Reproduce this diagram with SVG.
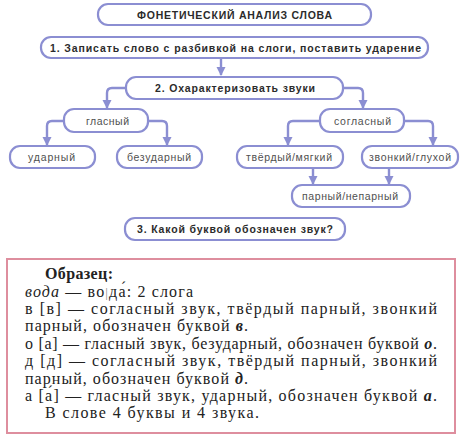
<svg xmlns="http://www.w3.org/2000/svg" width="463" height="439" viewBox="0 0 463 439">
<defs>
<marker id="ah" markerUnits="userSpaceOnUse" markerWidth="10" markerHeight="10" refX="8" refY="4.5" orient="auto" viewBox="0 0 10 9">
<path d="M0,0 L9,4.5 L0,9 z" fill="#8b8ed2"/>
</marker>
<style>
.box{fill:#fff;stroke:#8b8ed2;stroke-width:2.2}
.hd{font-family:"Liberation Sans",Arial,sans-serif;font-weight:bold;fill:#2b2b2b;text-anchor:middle}
.lb{font-family:"Liberation Sans",Arial,sans-serif;font-size:10.5px;fill:#505050;text-anchor:middle}
.cn{fill:none;stroke:#8b8ed2;stroke-width:2.4;stroke-linejoin:round}
.tx{font-family:"Liberation Serif","Times New Roman",serif;font-size:16px;fill:#222}
.bi{font-weight:bold;font-style:italic}
</style>
</defs>
<rect width="463" height="439" fill="#fff"/>
<g id="connectors">
<path class="cn" d="M221,58 V75" marker-end="url(#ah)"/>
<path class="cn" d="M126,88 H112 Q107,88 107,93 V108" marker-end="url(#ah)"/>
<path class="cn" d="M343,88 H358 Q363,88 363,93 V108" marker-end="url(#ah)"/>
<path class="cn" d="M64,121 H52 Q47,121 47,126 V145" marker-end="url(#ah)"/>
<path class="cn" d="M148,121 H162 Q167,121 167,126 V145" marker-end="url(#ah)"/>
<path class="cn" d="M320,121 H293 Q288,121 288,126 V145" marker-end="url(#ah)"/>
<path class="cn" d="M404,121 H428 Q433,121 433,126 V145" marker-end="url(#ah)"/>
<path class="cn" d="M313,168 V184" marker-end="url(#ah)"/>
<path class="cn" d="M389,168 V184" marker-end="url(#ah)"/>
</g>
<g id="title"><rect class="box" x="98" y="4" width="273" height="21" rx="10"/><text class="hd" x="234.5" y="19" font-size="10.5" textLength="195" lengthAdjust="spacing">ФОНЕТИЧЕСКИЙ АНАЛИЗ СЛОВА</text></g>
<g id="step1"><rect class="box" x="41" y="37" width="387" height="21" rx="10"/><text class="hd" x="235.5" y="51.5" font-size="10.5" textLength="371" lengthAdjust="spacing">1. Записать слово с разбивкой на слоги, поставить ударение</text></g>
<g id="step2"><rect class="box" x="126" y="77" width="217" height="22" rx="10"/><text class="hd" x="235" y="92" font-size="10.5" textLength="160" lengthAdjust="spacing">2. Охарактеризовать звуки</text></g>
<g id="vowel"><rect class="box" x="64" y="109" width="84" height="23" rx="10"/><text class="lb" x="107.5" y="124.5" textLength="43" lengthAdjust="spacing">гласный</text></g>
<g id="consonant"><rect class="box" x="320" y="109" width="84" height="23" rx="10"/><text class="lb" x="362.5" y="124.5" textLength="57" lengthAdjust="spacing">согласный</text></g>
<g id="stressed"><rect class="box" x="10" y="146" width="85" height="22" rx="10"/><text class="lb" x="51.5" y="161" textLength="47" lengthAdjust="spacing">ударный</text></g>
<g id="unstressed"><rect class="box" x="117" y="146" width="85" height="22" rx="10"/><text class="lb" x="159" y="161" textLength="64" lengthAdjust="spacing">безударный</text></g>
<g id="hardsoft"><rect class="box" x="237" y="146" width="106" height="22" rx="10"/><text class="lb" x="289" y="161" textLength="86" lengthAdjust="spacing">твёрдый/мягкий</text></g>
<g id="voiced"><rect class="box" x="362" y="146" width="96" height="22" rx="10"/><text class="lb" x="410" y="161" textLength="82" lengthAdjust="spacing">звонкий/глухой</text></g>
<g id="paired"><rect class="box" x="292" y="185" width="118" height="22" rx="10"/><text class="lb" x="350" y="200" textLength="96" lengthAdjust="spacing">парный/непарный</text></g>
<g id="step3"><rect class="box" x="125" y="218" width="220" height="22" rx="10"/><text class="hd" x="235" y="233" font-size="10.5" textLength="196" lengthAdjust="spacing">3. Какой буквой обозначен звук?</text></g>
<g id="sample">
<rect x="7" y="259" width="448" height="174" fill="#fff" stroke="#de8e9e" stroke-width="2"/>
<text class="tx" x="45" y="279" font-weight="bold" textLength="68" lengthAdjust="spacing">Образец:</text>
<text class="tx" x="25" y="296.5" textLength="168" lengthAdjust="spacing"><tspan font-style="italic">вода</tspan> — во<tspan fill="#888" font-size="13">|</tspan>да́: 2 слога</text>
<text class="tx" x="25" y="314" textLength="412" lengthAdjust="spacing">в [в] — согласный звук, твёрдый парный, звонкий</text>
<text class="tx" x="25" y="331.4" textLength="223" lengthAdjust="spacing">парный, обозначен буквой <tspan class="bi">в</tspan>.</text>
<text class="tx" x="25" y="348.8" textLength="412" lengthAdjust="spacing">о [а] — гласный звук, безударный, обозначен буквой <tspan class="bi">о</tspan>.</text>
<text class="tx" x="25" y="366.2" textLength="412" lengthAdjust="spacing">д [д] — согласный звук, твёрдый парный, звонкий</text>
<text class="tx" x="25" y="383.6" textLength="223" lengthAdjust="spacing">парный, обозначен буквой <tspan class="bi">д</tspan>.</text>
<text class="tx" x="25" y="401" textLength="412" lengthAdjust="spacing">а [а́] — гласный звук, ударный, обозначен буквой <tspan class="bi">а</tspan>.</text>
<text class="tx" x="45" y="418.4" textLength="214" lengthAdjust="spacing">В слове 4 буквы и 4 звука.</text>
</g>
</svg>
